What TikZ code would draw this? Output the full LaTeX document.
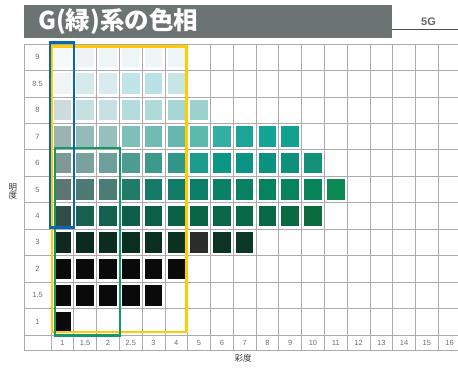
\documentclass[tikz,border=0pt]{standalone}
\usepackage{fontspec}
\setmainfont{Liberation Sans}
\newfontfamily\cjk{Noto Sans CJK JP}
\definecolor{titlegray}{HTML}{6C7373}
\definecolor{gridgray}{HTML}{ABABAB}
\definecolor{labgray}{HTML}{707070}
\definecolor{ovyellow}{HTML}{FFCC00}
\definecolor{ovgreen}{HTML}{119A63}
\definecolor{ovblue}{HTML}{0866B4}
\begin{document}
\begin{tikzpicture}[x=1pt,y=-1pt,
  gridline/.style={draw=gridgray,line width=0.7pt},
  lab/.style={font=\fontsize{7.5}{8}\selectfont,text=labgray,inner sep=0pt},
  axislab/.style={font=\cjk\fontsize{8.5}{9}\selectfont,text=black!80,inner sep=0pt},
  overlay/.style={line width=2.8pt}]
\useasboundingbox (0,0) rectangle (458,370);
\def\cw{22.78}
\def\rh{26.45}
% title
\fill[titlegray] (24,5) rectangle (392,38);
\node[anchor=west,text=white,inner sep=0pt,font=\cjk\bfseries\fontsize{24.5}{26}\selectfont] (title) at (38,21.5) {G(緑)系の色相};
\node[font=\bfseries\fontsize{11}{12}\selectfont,text=black!60,inner sep=0pt] (hue) at (428.5,21.5) {5G};
\draw[black!70,line width=0.8pt] (392,29) -- (458,29);
% grid
\begin{scope}
\clip (0,40) rectangle (458,352);
\foreach \k in {0,...,11} \draw[gridline] (24,{44+\rh*\k}) -- (460,{44+\rh*\k});
\draw[gridline] (24,350) -- (460,350);
\draw[gridline] (24,44) -- (24,350);
\foreach \i in {0,...,18} \draw[gridline] ({51+\cw*\i},44) -- ({51+\cw*\i},350);
\end{scope}
% colour squares
\foreach \k/\row in {
 0/{F6F9FA,EEF4F6,EEF5F7,EDF5F7,EEF5F7,F0F6F7},
 1/{F0F4F5,D5EAEC,D8ECEF,C0E5E8,B8E2E5,C6E6E6},
 2/{CDDADE,C6DFE1,C8E0E3,B5DCDD,AFDAD9,A6D6D5,9DD1CE},
 3/{9BB3B4,93BCB8,95C0BC,80BEB8,72BBB3,65B8AF,5EB9AD,35AEA2,1AA598,14A394,12A08F},
 4/{7F9896,7AA19D,6F9F9A,4E9C91,3D998C,30978A,1C9B8C,0B9686,0A9382,0B917F,0E907B,129078},
 5/{5D7674,4D7A74,4B7D76,217B69,157B68,107C68,0C7E68,0A8066,078162,05825F,06835C,078459,0B8A54},
 6/{304E49,1A6050,13604E,0E5E49,0B5F48,0A6148,0A6547,096646,086744,086843,096A41,0A6B3F},
 7/{10281E,0C2B20,0B2D21,0A2F21,09301F,0A321F,2B2D2B,0C3424,0D3826},
 8/{0A0A0A,0A0A0A,0A0A0A,0A0A0A,0A0A0A,0A0A0A},
 9/{0A0A0A,0A0A0A,0A0A0A,0A0A0A,0A0A0A},
 10/{0A0A0A}} {
  \foreach \c [count=\j from 0] in \row {
    \edef\tmpdef{\noexpand\definecolor{cc}{HTML}{\c}}\tmpdef
    \fill[cc] ({51+\cw*\j+2.6},{44+\rh*\k+3}) rectangle ({51+\cw*(\j+1)-2.6},{44+\rh*(\k+1)-3});
  }
}
% row labels
\foreach \t [count=\k from 0] in {9,8.5,8,7,6,5,4,3,2,1.5,1}
  \node[lab] (r\k) at (37.5,{44+\rh*\k+\rh/2}) {\t};
% column labels
\foreach \t [count=\j from 0] in {1,1.5,2,2.5,3,4,5,6,7,8,9,10,11,12,13,14,15,16}
  \node[lab] (c\j) at ({51+\cw*\j+\cw/2},342.5) {\t};
% axis titles
\node[axislab,align=center] (vlab) at (13,191.5) {明\\[-1pt]度};
\node[axislab] (clab) at (243,358) {彩度};
% overlay frames
\draw[overlay,ovyellow] (52,46.5) rectangle (186.5,332);
\draw[overlay,ovgreen] (55,148) rectangle (120,335.5);
\draw[overlay,ovblue] (50,42.5) rectangle (74,227.5);
\end{tikzpicture}
\end{document}
